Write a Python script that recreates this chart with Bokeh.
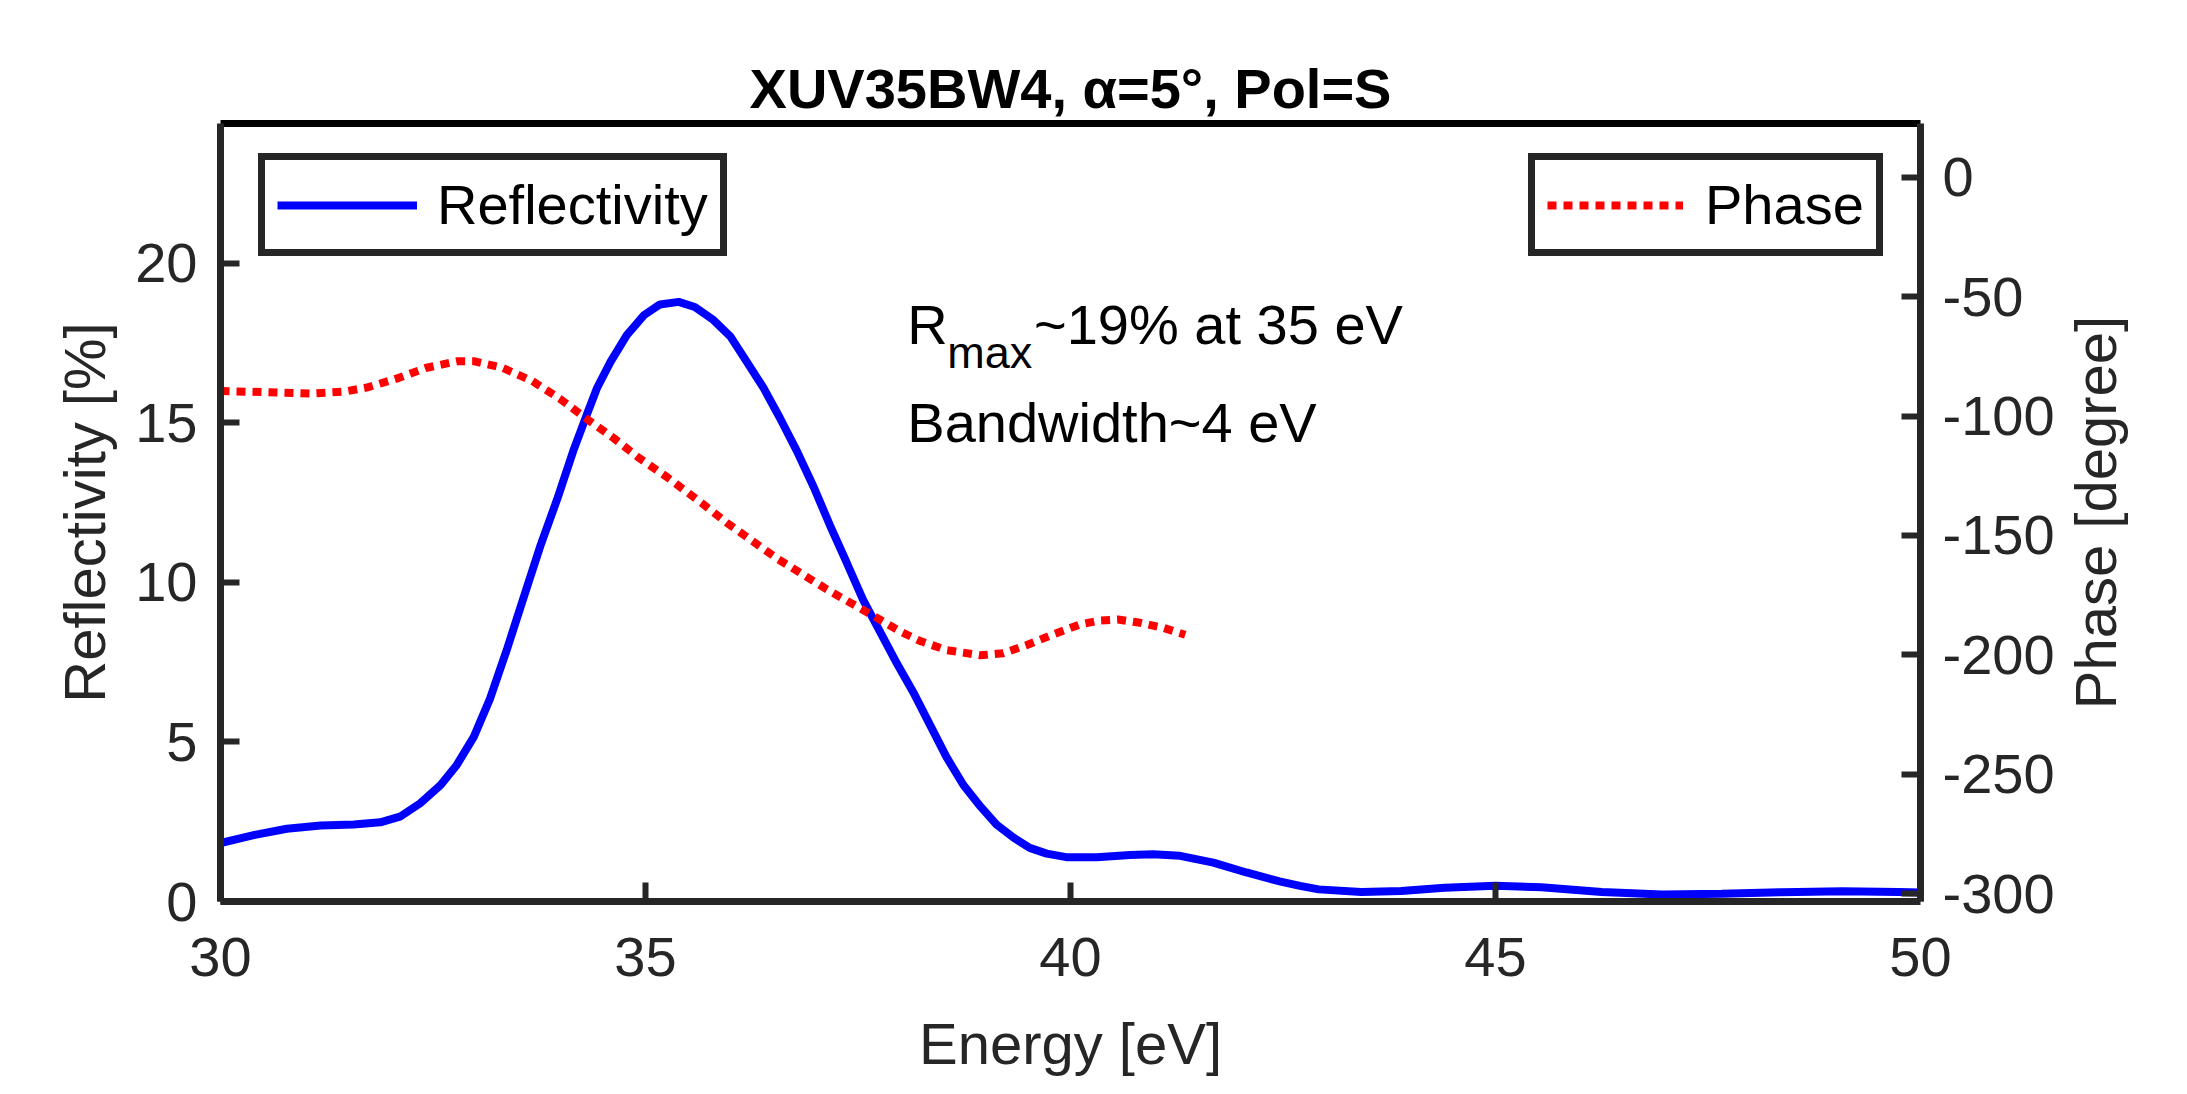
import math
from bokeh.plotting import figure
from bokeh.layouts import row
from bokeh.models import Range1d, LinearAxis, FixedTicker, Legend, LegendItem, Label
from bokeh.embed import file_html
from bokeh.resources import INLINE

# ---- data ----
energy_R = [30.0, 30.39, 30.78, 31.18, 31.57, 31.88, 32.12, 32.35, 32.59, 32.78, 32.98,
            33.17, 33.37, 33.57, 33.76, 33.96, 34.15, 34.31, 34.43, 34.59, 34.78, 34.98,
            35.17, 35.39, 35.58, 35.8, 36.0, 36.19, 36.39, 36.58, 36.78, 36.98, 37.17,
            37.37, 37.56, 37.76, 37.96, 38.15, 38.35, 38.54, 38.74, 38.94, 39.13, 39.33,
            39.52, 39.72, 39.95, 40.31, 40.7, 40.97, 41.29, 41.68, 42.07, 42.46, 42.7,
            42.92, 43.42, 43.89, 44.4, 45.0, 45.54, 46.25, 46.96, 47.66, 48.37, 49.08,
            49.74, 50.0]
reflectivity = [1.83, 2.08, 2.28, 2.38, 2.41, 2.48, 2.67, 3.08, 3.65, 4.28, 5.16,
                6.35, 7.9, 9.56, 11.12, 12.6, 14.12, 15.26, 16.09, 16.92, 17.75, 18.37,
                18.71, 18.79, 18.63, 18.22, 17.7, 16.92, 16.09, 15.16, 14.12, 12.98, 11.79,
                10.6, 9.45, 8.45, 7.45, 6.56, 5.52, 4.53, 3.65, 2.98, 2.41, 2.0,
                1.68, 1.5, 1.39, 1.39, 1.46, 1.48, 1.43, 1.22, 0.91, 0.63, 0.49,
                0.38, 0.30, 0.33, 0.43, 0.49, 0.45, 0.30, 0.22, 0.24, 0.29, 0.32,
                0.30, 0.28]

energy_P = [30.0, 30.52, 31.05, 31.47, 31.73, 32.1, 32.41, 32.78, 32.99, 33.31, 33.67,
            33.99, 34.31, 34.62, 34.93, 35.25, 35.67, 35.96, 36.54, 37.13, 37.72, 37.99,
            38.23, 38.54, 38.94, 39.21, 39.48, 39.8, 40.11, 40.35, 40.56, 40.82, 41.09,
            41.35]
phase = [-89.5, -90.0, -90.6, -89.7, -88.0, -84.0, -79.9, -77.1, -77.1, -79.7, -85.4,
         -92.7, -101.2, -109.1, -117.7, -125.5, -136.7, -144.8, -159.5, -172.5, -184.5, -190.1,
         -194.2, -198.0, -200.2, -199.3, -196.0, -191.4, -187.3, -185.6, -185.2, -186.6, -188.7,
         -191.6]

x_ticks = [30, 35, 40, 45, 50]
left_ticks = [0, 5, 10, 15, 20]
right_ticks = [-300, -250, -200, -150, -100, -50, 0]

title_text = "XUV35BW4, \u03b1=5\u00b0, Pol=S"
x_label = "Energy [eV]"
left_label = "Reflectivity [%]"
right_label = "Phase [degree]"

X_MIN, X_MAX = 30, 50
Y_MIN, Y_MAX = 0, 24.38

FONT = "Liberation Sans"
FS = "56px"
FS_LABEL = "58px"
AX = "#262626"

B_TOP, B_BOTTOM = 123, 171
W_MAIN, W_SIDE, H = 2057, 114, 1078

p = figure(width=W_MAIN, height=H,
           x_range=Range1d(X_MIN, X_MAX), y_range=Range1d(Y_MIN, Y_MAX),
           output_backend="svg", toolbar_location=None,
           min_border_left=220, min_border_right=W_MAIN - 1921,
           min_border_top=B_TOP, min_border_bottom=B_BOTTOM)
p.extra_y_ranges = {"phase": Range1d(-303.3, 22.5)}
p.grid.visible = False
p.outline_line_color = None
p.background_fill_color = "white"
p.border_fill_color = "white"

p.title.text = title_text
p.title.align = "center"
p.title.text_font = FONT
p.title.text_font_size = FS
p.title.text_font_style = "bold"
p.title.text_color = "black"
p.title.standoff = 7


def style_axis(ax, ticks, label):
    ax.ticker = FixedTicker(ticks=ticks)
    ax.major_label_overrides = {t: str(t) for t in ticks}
    ax.axis_label = label
    ax.axis_label_text_font = FONT
    ax.axis_label_text_font_size = FS_LABEL
    ax.axis_label_text_font_style = "normal"
    ax.axis_label_text_color = AX
    ax.major_label_text_font = FONT
    ax.major_label_text_font_size = FS
    ax.major_label_text_color = AX
    ax.axis_line_color = AX
    ax.axis_line_width = 7
    ax.major_tick_line_color = AX
    ax.major_tick_line_width = 6
    ax.major_tick_in = 19
    ax.major_tick_out = 0
    ax.minor_tick_line_color = None


style_axis(p.xaxis[0], x_ticks, x_label)
p.xaxis[0].major_label_standoff = 36
p.xaxis[0].axis_label_standoff = 32
style_axis(p.yaxis[0], left_ticks, left_label)
p.yaxis[0].major_label_standoff = 23
p.yaxis[0].axis_label_standoff = 15

right = LinearAxis(y_range_name="phase")
style_axis(right, right_ticks, None)
right.major_label_standoff = 22
p.add_layout(right, "right")

top = LinearAxis(ticker=FixedTicker(ticks=[]))
top.axis_line_color = "black"
top.axis_line_width = 7
top.major_tick_line_color = None
top.minor_tick_line_color = None
top.major_label_text_font_size = "0px"
p.add_layout(top, "above")

r_refl = p.line(energy_R, reflectivity, line_color="#0000FF", line_width=8)
r_phase = p.line(energy_P, phase, line_color="#FF0000", line_width=8,
                 line_dash="9 7", y_range_name="phase")


def make_legend(label, renderer, loc, gw, ls):
    leg = Legend(items=[LegendItem(label=label, renderers=[renderer])],
                 location=loc, margin=0, padding=12, spacing=0,
                 glyph_width=gw, glyph_height=50, label_standoff=ls,
                 label_text_font=FONT, label_text_font_size=FS, label_text_color="black",
                 border_line_color=AX, border_line_width=7, border_line_alpha=1,
                 background_fill_color="white", background_fill_alpha=1)
    return leg


p.add_layout(make_legend("Reflectivity", r_refl, (38, 645), 140, 20))
p.add_layout(make_legend("Phase", r_phase, (1308, 645), 136, 22))

common = dict(text_font=FONT, text_color="black", text_baseline="alphabetic")
p.add_layout(Label(x=38.08, y=18.08, text="R", text_font_size=FS, **common))
p.add_layout(Label(x=38.55, y=17.21, text="max", text_font_size="45px", **common))
p.add_layout(Label(x=39.57, y=18.08, text="~19% at 35 eV", text_font_size=FS, **common))
p.add_layout(Label(x=38.08, y=15.02, text="Bandwidth~4 eV", text_font_size=FS, **common))

# narrow side panel holding the right-hand axis title (reads bottom-to-top)
side = figure(width=W_SIDE, height=H, x_range=Range1d(0, 1), y_range=p.y_range,
              output_backend="svg", toolbar_location=None,
              min_border_left=0, min_border_right=0,
              min_border_top=B_TOP, min_border_bottom=B_BOTTOM)
side.axis.visible = False
side.grid.visible = False
side.outline_line_color = None
side.background_fill_color = "white"
side.border_fill_color = "white"
side.add_layout(Label(x=0.333, y=(Y_MIN + Y_MAX) / 2, text=right_label, angle=math.pi / 2,
                      text_align="center", text_baseline="middle",
                      text_font=FONT, text_font_size=FS_LABEL, text_color=AX))

layout = row(p, side)
open("out.html", "w").write(file_html(layout, INLINE))
